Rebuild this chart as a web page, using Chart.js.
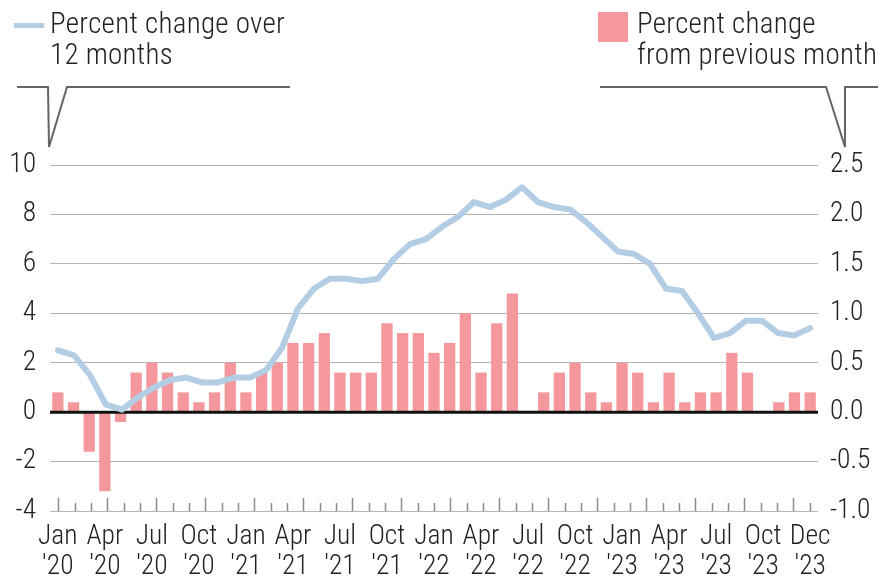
<!DOCTYPE html>
<html>
<head>
<meta charset="utf-8">
<script src="https://cdn.jsdelivr.net/npm/chart.js@4.4.1/dist/chart.umd.min.js"></script>
<style>
body { margin: 0; background: #fff; }
#wrap { position: relative; width: 878px; height: 585px; font-family: 'Roboto Condensed', 'Roboto', sans-serif; font-weight: 300; color: #222; }
#wrap canvas, #wrap svg { position: absolute; left: 0; top: 0; }
.lg { position: absolute; font-size: 29px; line-height: 31px; letter-spacing: 0.3px; white-space: nowrap; }
.key { position: absolute; }
</style>
</head>
<body>
<div id="wrap">
  <canvas id="chart" width="878" height="585"></canvas>
  <svg width="878" height="160">
    <polyline points="17,87 48,87 49,147 67,87 290,87" fill="none" stroke="#666" stroke-width="2"/>
    <polyline points="600,87 826,87 845,147 845,87 878,87" fill="none" stroke="#666" stroke-width="2"/>
  </svg>
  <div class="key" style="left:14px;top:23px;width:30px;height:5px;background:#b3cee4"></div>
  <div class="lg" style="left:50px;top:8px">Percent change over<br>12 months</div>
  <div class="key" style="left:598px;top:12px;width:30px;height:30px;background:#f5989d"></div>
  <div class="lg" style="left:637px;top:8px">Percent change<br>from previous month</div>
</div>
<script>
// 12-month change, Jan 2020 - Dec 2023
var months = ["Jan 2020","Feb 2020","Mar 2020","Apr 2020","May 2020","Jun 2020","Jul 2020","Aug 2020","Sep 2020","Oct 2020","Nov 2020","Dec 2020",
  "Jan 2021","Feb 2021","Mar 2021","Apr 2021","May 2021","Jun 2021","Jul 2021","Aug 2021","Sep 2021","Oct 2021","Nov 2021","Dec 2021",
  "Jan 2022","Feb 2022","Mar 2022","Apr 2022","May 2022","Jun 2022","Jul 2022","Aug 2022","Sep 2022","Oct 2022","Nov 2022","Dec 2022",
  "Jan 2023","Feb 2023","Mar 2023","Apr 2023","May 2023","Jun 2023","Jul 2023","Aug 2023","Sep 2023","Oct 2023","Nov 2023","Dec 2023"];
var change12 = [2.5, 2.3, 1.5, 0.3, 0.1, 0.6, 1.0, 1.3, 1.4, 1.2, 1.2, 1.4,
  1.4, 1.7, 2.6, 4.2, 5.0, 5.4, 5.4, 5.3, 5.4, 6.2, 6.8, 7.0,
  7.5, 7.9, 8.5, 8.3, 8.6, 9.1, 8.5, 8.3, 8.2, 7.7, 7.1, 6.5,
  6.4, 6.0, 5.0, 4.9, 4.0, 3.0, 3.2, 3.7, 3.7, 3.2, 3.1, 3.4];

// monthly change bars (49 as drawn)
var change1 = [0.2, 0.1, -0.4, -0.8, -0.1, 0.4, 0.5, 0.4, 0.2, 0.1, 0.2, 0.5,
  0.2, 0.4, 0.5, 0.7, 0.7, 0.8, 0.4, 0.4, 0.4, 0.9, 0.8, 0.8,
  0.6, 0.7, 1.0, 0.4, 0.9, 1.2, 0.0, 0.2, 0.4, 0.5, 0.2, 0.1,
  0.5, 0.4, 0.1, 0.4, 0.1, 0.2, 0.2, 0.6, 0.4, 0.0, 0.1, 0.2, 0.2];

// axis labels, one slot per bar
var xLabels = [["Jan","'20"],"","",["Apr","'20"],"","",["Jul","'20"],"","",["Oct","'20"],"","",
  ["Jan","'21"],"","",["Apr","'21"],"","",["Jul","'21"],"","",["Oct","'21"],"","",
  ["Jan","'22"],"","",["Apr","'22"],"","",["Jul","'22"],"","",["Oct","'22"],"","",
  ["Jan","'23"],"","",["Apr","'23"],"","",["Jul","'23"],"","",["Oct","'23"],"","",["Dec","'23"]];

// small tick marks along the bottom (major every 3rd)
var tickMarks = ["J","F","M","A","M","J","J","A","S","O","N","D",
  "J","F","M","A","M","J","J","A","S","O","N","D",
  "J","F","M","A","M","J","J","A","S","O","N","D",
  "J","F","M","A","M","J","J","A","S","O","N"];

var leftTicks = [-4, -2, 0, 2, 4, 6, 8, 10];
var rightTicks = [-1.0, -0.5, 0.0, 0.5, 1.0, 1.5, 2.0, 2.5];

var tickFont = { family: "'Roboto Condensed', 'Roboto', sans-serif", weight: 300, size: 27.5, lineHeight: 1.1 };

var decor = {
    id: 'decor',
    afterDatasetDraw: function(chart, args) {
        if (args.meta.type !== 'bar') return;
        var ctx = chart.ctx, a = chart.chartArea;
        var y0 = chart.scales.y.getPixelForValue(0);
        ctx.save();
        ctx.strokeStyle = '#111';
        ctx.lineWidth = 3;
        ctx.beginPath();
        ctx.moveTo(a.left, y0);
        ctx.lineTo(a.right, y0);
        ctx.stroke();
        ctx.restore();
    },
    afterDraw: function(chart) {
        var ctx = chart.ctx, a = chart.chartArea, xt = chart.scales.xt;
        ctx.save();
        ctx.strokeStyle = '#8a8a8a';
        ctx.lineWidth = 1.5;
        for (let i = 0; i < tickMarks.length; i++) {
            var x = Math.round(xt.getPixelForValue(i)) + 0.5;
            var len = (i % 3 == 0) ? 13 : 8;
            ctx.beginPath();
            ctx.moveTo(x, a.bottom);
            ctx.lineTo(x, a.bottom - len);
            ctx.stroke();
        }
        ctx.restore();
    }
};

var ctx = document.getElementById("chart").getContext("2d");
var myChart = new Chart(ctx, {
    data: {
        labels: months,
        datasets: [{
            type: 'line',
            label: 'Percent change over 12 months',
            data: change12,
            xAxisID: 'x',
            yAxisID: 'y',
            borderColor: '#b3cee4',
            borderWidth: 6,
            borderJoinStyle: 'round',
            borderCapStyle: 'round',
            pointRadius: 0,
            tension: 0,
            order: 0,
        }, {
            type: 'bar',
            label: 'Percent change from previous month',
            data: change1,
            xAxisID: 'xb',
            yAxisID: 'y2',
            backgroundColor: '#f5989d',
            grouped: false,
            barPercentage: 0.72,
            categoryPercentage: 1,
            order: 1,
        }],
    },
    options: {
        responsive: false,
        animation: false,
        devicePixelRatio: 1,
        layout: { padding: { top: 165, left: 0, right: 0, bottom: 0 } },
        plugins: {
            legend: { display: false },
            tooltip: { enabled: false },
        },
        scales: {
            x: { type: 'category', labels: months, offset: true, display: false },
            xt: { type: 'category', labels: tickMarks, offset: true, display: false },
            xb: {
                type: 'category',
                labels: xLabels,
                offset: true,
                position: 'bottom',
                grid: { display: false },
                border: { display: false },
                ticks: {
                    autoSkip: false,
                    maxRotation: 0,
                    padding: 3,
                    color: '#222',
                    font: tickFont,
                    callback: function(v, i) { return xLabels[i]; },
                },
                afterFit: function(s) { s.height = 74; },
            },
            y: {
                position: 'left',
                min: -4,
                max: 10,
                afterBuildTicks: function(s) { s.ticks = leftTicks.map(function(v) { return { value: v }; }); },
                ticks: { color: '#222', font: tickFont, padding: 14 },
                grid: { color: '#b4b4b4', lineWidth: 1, drawTicks: false },
                border: { display: false },
                afterFit: function(s) { s.width = 50; },
            },
            y2: {
                position: 'right',
                min: -1,
                max: 2.5,
                afterBuildTicks: function(s) { s.ticks = rightTicks.map(function(v) { return { value: v }; }); },
                ticks: {
                    color: '#222',
                    font: tickFont,
                    padding: 12,
                    callback: function(v) { return v.toFixed(1); },
                },
                grid: { display: false, drawTicks: false },
                border: { display: false },
                afterFit: function(s) { s.width = 60; },
            },
        },
    },
    plugins: [decor],
});
</script>
</body>
</html>
